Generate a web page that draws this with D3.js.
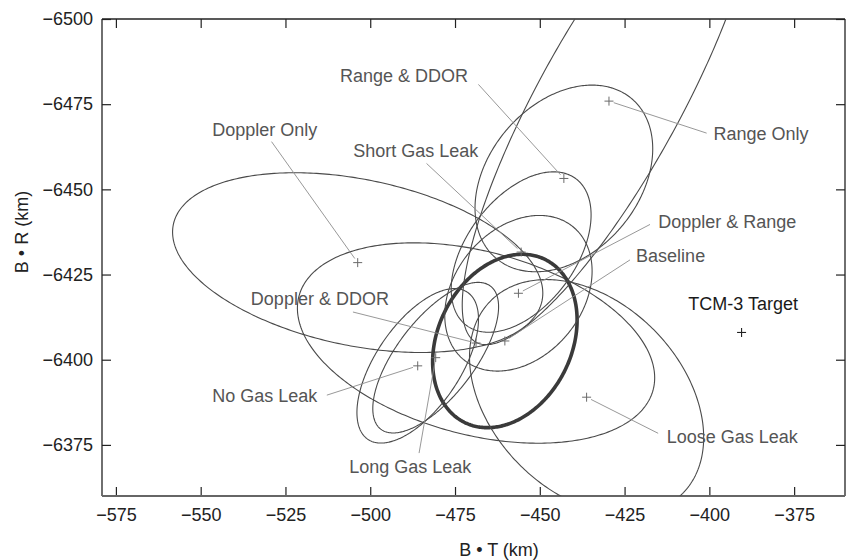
<!DOCTYPE html>
<html>
<head>
<meta charset="utf-8">
<script src="https://cdn.jsdelivr.net/npm/d3@7/dist/d3.min.js"></script>
<style>
  html, body { margin: 0; padding: 0; background: #fff; }
  svg { display: block; font-family: "Liberation Sans", Arial, Helvetica, sans-serif; }
</style>
</head>
<body>
<svg id="chart" width="846" height="560"></svg>
<script>
// B-plane tick values
const xTicks = [-575, -550, -525, -500, -475, -450, -425, -400, -375];
const yTicks = [-6500, -6475, -6450, -6425, -6400, -6375];

// Orbit-determination solutions: centre (B·T, B·R), ellipse semi-axes (km), tilt (deg, counter-clockwise)
const solutions = ["Doppler Only", "Doppler & DDOR", "Baseline", "Range & DDOR", "Range Only",
                   "Loose Gas Leak", "Short Gas Leak", "No Gas Leak", "Long Gas Leak", "Doppler & Range"];
const centerBT  = [-503.7, -468.8, -460.3, -442.9, -429.6, -436.2, -455.5, -486.0, -480.7, -456.3];
const centerBR  = [-6428.5, -6404.9, -6405.5, -6453.2, -6475.9, -6389.0, -6431.6, -6398.2, -6400.6, -6419.5];
const semiMajor = [55.5, 54.0, 26.7, 30.8, 80.9, 40.0, 26.9, 26.1, 26.5, 25.3];
const semiMinor = [24.4, 26.9, 19.7, 22.1, 20.9, 28.0, 16.0, 12.4, 11.4, 18.8];
const tiltDeg   = [-11.6, -14.7, 63.3, 49.0, 61.0, -45.0, 53.0, 55.7, 52.3, 50.0];

// Target point
const targetName = "TCM-3 Target";
const targetBT = -390.5;
const targetBR = -6408.0;

// Annotation text anchors and leader start points (B·T, B·R)
const labelBT  = [-546.6, -535.2, -421.6, -508.9, -398.8, -412.6, -505.0, -546.6, -506.2, -415.1];
const labelBR  = [-6465.7, -6416.1, -6428.8, -6481.6, -6464.5, -6375.5, -6459.4, -6387.7, -6366.8, -6438.6];
const leaderBT = [-529.1, -505.1, -423.4, -468.1, -400.8, -415.1, -483.4, -512.8, -485.6, -417.5];
const leaderBR = [-6464.0, -6414.0, -6429.3, -6480.8, -6466.5, -6378.4, -6457.6, -6389.6, -6372.6, -6439.7];
const targetLabelBT = -406.2;
const targetLabelBR = -6414.6;

const svg = d3.select("#chart");
const plot = { left: 102, right: 845, top: 19, bottom: 496 };

const x = d3.scaleLinear().domain([-579.1, -360]).range([plot.left, plot.right]);
const y = d3.scaleLinear().domain([-6500, -6360]).range([plot.top, plot.bottom]);

svg.append("defs").append("clipPath").attr("id", "plotClip")
  .append("rect")
  .attr("x", plot.left).attr("y", plot.top)
  .attr("width", plot.right - plot.left).attr("height", plot.bottom - plot.top);

const tickLen = 9;
const tickFont = 18;
const minus = d => d3.format("d")(d).replace("-", "\u2212");

// Bottom and top axes (inward ticks)
const xBottom = svg.append("g").attr("transform", `translate(0,${plot.bottom})`)
  .call(d3.axisBottom(x).tickValues(xTicks).tickSizeInner(-tickLen).tickSizeOuter(0)
        .tickPadding(12).tickFormat(minus));
const xTop = svg.append("g").attr("transform", `translate(0,${plot.top})`)
  .call(d3.axisTop(x).tickValues(xTicks).tickSizeInner(-tickLen).tickSizeOuter(0).tickFormat(""));
const yLeft = svg.append("g").attr("transform", `translate(${plot.left},0)`)
  .call(d3.axisLeft(y).tickValues(yTicks).tickSizeInner(-tickLen).tickSizeOuter(0)
        .tickPadding(9).tickFormat(minus));
const yRight = svg.append("g").attr("transform", `translate(${plot.right},0)`)
  .call(d3.axisRight(y).tickValues(yTicks).tickSizeInner(-tickLen).tickSizeOuter(0).tickFormat(""));

[xBottom, xTop, yLeft, yRight].forEach(g => {
  g.select(".domain").remove();
  g.selectAll(".tick line").attr("stroke", "#222").attr("stroke-width", 1.2);
  g.selectAll(".tick text").attr("fill", "#222").attr("font-size", tickFont)
    .attr("font-family", "'Liberation Sans', Arial, sans-serif");
});

// Frame
const frame = [
  [plot.left, plot.top, plot.right, plot.top, "#222", 1.3],
  [plot.right, plot.top, plot.right, plot.bottom, "#222", 1.3],
  [plot.left, plot.top, plot.left, plot.bottom, "#222", 1.3],
  [plot.left, plot.bottom, plot.right, plot.bottom, "#666", 2]
];
frame.forEach(f => svg.append("line").attr("x1", f[0]).attr("y1", f[1]).attr("x2", f[2]).attr("y2", f[3])
  .attr("stroke", f[4]).attr("stroke-width", f[5]));

// Axis titles
svg.append("text").attr("x", 499).attr("y", 556).attr("text-anchor", "middle")
  .attr("font-size", 18).attr("fill", "#222").text("B \u2022 T (km)");
svg.append("text").attr("transform", "translate(28,232) rotate(-90)").attr("text-anchor", "middle")
  .attr("font-size", 18).attr("fill", "#222").text("B \u2022 R (km)");

// Ellipse outline in data space
function ellipsePoints(i) {
  const th = tiltDeg[i] * Math.PI / 180;
  const pts = [];
  for (let k = 0; k < 360; k++) {
    const t = k * Math.PI / 180;
    const u = semiMajor[i] * Math.cos(t), v = semiMinor[i] * Math.sin(t);
    const dT = u * Math.cos(th) - v * Math.sin(th);
    const dUp = u * Math.sin(th) + v * Math.cos(th);
    pts.push([centerBT[i] + dT, centerBR[i] - dUp]);
  }
  return pts;
}

const line = d3.line().x(d => x(d[0])).y(d => y(d[1])).curve(d3.curveLinearClosed);
const gEll = svg.append("g").attr("clip-path", "url(#plotClip)");

solutions.forEach((name, i) => {
  const baseline = name === "Baseline";
  gEll.append("path")
    .attr("d", line(ellipsePoints(i)))
    .attr("fill", "none")
    .attr("stroke", baseline ? "#3a3a3a" : "#4a4a4a")
    .attr("stroke-width", baseline ? 3.6 : 1.1);
});

// Leader lines
solutions.forEach((name, i) => {
  const x0 = x(leaderBT[i]), y0 = y(leaderBR[i]);
  const x1 = x(centerBT[i]), y1 = y(centerBR[i]);
  const L = Math.hypot(x1 - x0, y1 - y0);
  const s = (L - 5) / L;
  svg.append("line")
    .attr("x1", x0).attr("y1", y0)
    .attr("x2", x0 + (x1 - x0) * s).attr("y2", y0 + (y1 - y0) * s)
    .attr("stroke", "#8c8c8c").attr("stroke-width", 0.9);
});

// Centre markers
function plus(g, cx, cy, r, color, w) {
  g.append("line").attr("x1", cx - r).attr("x2", cx + r).attr("y1", cy).attr("y2", cy)
    .attr("stroke", color).attr("stroke-width", w);
  g.append("line").attr("x1", cx).attr("x2", cx).attr("y1", cy - r).attr("y2", cy + r)
    .attr("stroke", color).attr("stroke-width", w);
}
const gMark = svg.append("g");
solutions.forEach((name, i) => plus(gMark, x(centerBT[i]), y(centerBR[i]), 4.5, "#6a6a6a", 1));
plus(gMark, x(targetBT), y(targetBR), 4.5, "#222", 1.1);

// Labels
solutions.forEach((name, i) => {
  svg.append("text").attr("x", x(labelBT[i])).attr("y", y(labelBR[i]))
    .attr("font-size", 18).attr("fill", "#555").text(name);
});
svg.append("text").attr("x", x(targetLabelBT)).attr("y", y(targetLabelBR))
  .attr("font-size", 18).attr("fill", "#1a1a1a").text(targetName);
</script>
</body>
</html>
